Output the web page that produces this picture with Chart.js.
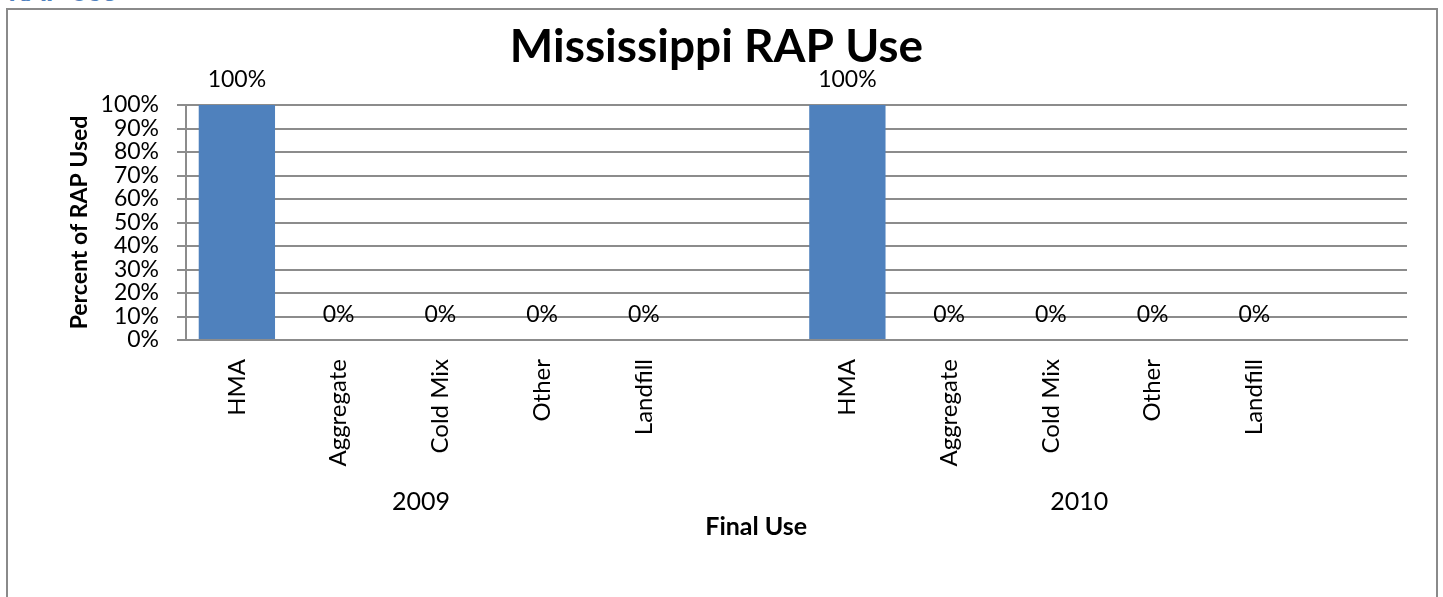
<!DOCTYPE html>
<html>
<head>
<meta charset="utf-8">
<title>Mississippi RAP Use</title>
<script src="https://cdn.jsdelivr.net/npm/chart.js@4.4.1/dist/chart.umd.min.js"></script>
<style>
  html, body { margin: 0; padding: 0; background: #fff; }
  body { width: 1443px; height: 597px; position: relative; overflow: hidden; }
  #heading { position: absolute; left: 8px; top: -22px; font: bold 28px Lato, sans-serif; color: #4F81BD; line-height: 24px; white-space: nowrap; }
  #frame { position: absolute; left: 6px; top: 8px; width: 1428px; height: 700px; border: 2px solid #8a8a8a; pointer-events: none; }
  #chart { position: absolute; left: 0; top: 0; }
</style>
</head>
<body>
<div id="heading">RAP Use</div>
<canvas id="chart" width="1443" height="597"></canvas>
<div id="frame"></div>
<script>
// data
const years = ['2009', '2010'];
const uses = ['HMA', 'Aggregate', 'Cold Mix', 'Other', 'Landfill', ''];
const share2009 = [100, 0, 0, 0, 0, null];
const share2010 = [100, 0, 0, 0, 0, null];
const chartTitle = 'Mississippi RAP Use';
const yTitle = 'Percent of RAP Used';
const xTitle = 'Final Use';

const labels = years.flatMap(() => uses);
const values = [...share2009, ...share2010];

const gridGrey = '#8c8c8c';
const barBlue = '#4F81BD';

// where the year labels sit, in category units
const yearPos = [1.81, 8.28];

// data labels, title, years and x axis title
const textPlugin = {
    id: 'textPlugin',
    afterDatasetsDraw(chart) {
        const ctx = chart.ctx;
        const meta = chart.getDatasetMeta(0);
        ctx.save();
        ctx.fillStyle = '#000';
        ctx.textAlign = 'center';
        ctx.textBaseline = 'alphabetic';
        ctx.font = '23px Lato';
        meta.data.forEach((bar, i) => {
            const v = values[i];
            if (v === null) return;
            ctx.fillText(v + '%', bar.x, bar.y - 18);
        });
        ctx.restore();
    },
    afterDraw(chart) {
        const ctx = chart.ctx;
        const area = chart.chartArea;
        const xScale = chart.scales.x;
        ctx.save();
        ctx.fillStyle = '#000';
        ctx.textAlign = 'center';
        ctx.textBaseline = 'alphabetic';

        ctx.font = 'bold 46px Lato';
        ctx.fillText(chartTitle, chart.width / 2 - 5, 62);

        ctx.font = '25px Lato';
        years.forEach((yr, i) => {
            ctx.fillText(yr, xScale.getPixelForValue(yearPos[i]), 510);
        });

        ctx.font = 'bold 25px Lato';
        ctx.fillText(xTitle, area.left + 0.467 * (area.right - area.left), 535);
        ctx.restore();
    }
};

document.addEventListener('DOMContentLoaded', function() {
    const ctx = document.getElementById('chart').getContext('2d');
    new Chart(ctx, {
        type: 'bar',
        data: {
            labels: labels,
            datasets: [{
                data: values,
                backgroundColor: barBlue,
                borderWidth: 0,
                barPercentage: 0.75,
                categoryPercentage: 1.0
            }]
        },
        options: {
            responsive: false,
            animation: false,
            devicePixelRatio: 1,
            layout: {
                padding: { top: 105, right: 36, bottom: 0, left: 0 }
            },
            plugins: {
                legend: { display: false },
                tooltip: { enabled: false },
                title: { display: false }
            },
            scales: {
                x: {
                    ticks: {
                        autoSkip: false,
                        maxRotation: 90,
                        minRotation: 90,
                        color: '#000',
                        font: { family: 'Lato', size: 24 },
                        padding: 19
                    },
                    grid: { display: false, drawTicks: false },
                    border: { color: gridGrey, width: 2 },
                    afterFit(scale) { scale.height = 257; }
                },
                y: {
                    min: 0,
                    max: 100,
                    ticks: {
                        stepSize: 10,
                        autoSkip: false,
                        color: '#000',
                        font: { family: 'Lato', size: 23 },
                        padding: 18,
                        callback: v => v + '%'
                    },
                    grid: { color: gridGrey, lineWidth: 2, tickLength: 9 },
                    border: { color: gridGrey, width: 2 },
                    title: {
                        display: true,
                        text: yTitle,
                        color: '#000',
                        font: { family: 'Lato', size: 23, weight: 'bold' },
                        padding: { top: 66, bottom: 0 }
                    },
                    afterFit(scale) { scale.width = 186; }
                }
            }
        },
        plugins: [textPlugin]
    });
});
</script>
</body>
</html>
